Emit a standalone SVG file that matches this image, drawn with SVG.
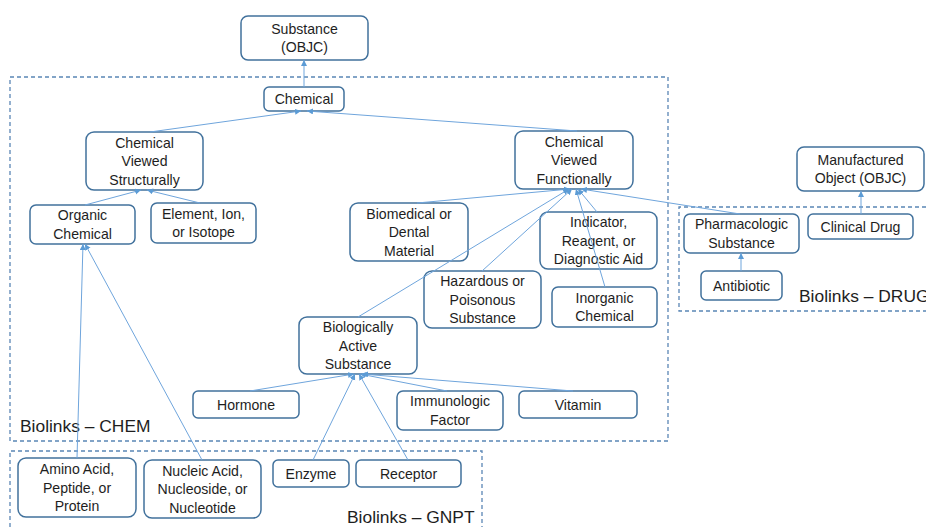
<svg xmlns="http://www.w3.org/2000/svg" width="926" height="527" viewBox="0 0 926 527">
  <style>
    .node rect { fill: #ffffff; stroke: #41719c; stroke-width: 1.5; }
    .node text { font-family: "Liberation Sans", Arial, sans-serif; font-size: 14.1px; fill: #1e1e1e; text-anchor: middle; }
    .group { fill: none; stroke: #5a86b5; stroke-width: 1.3; stroke-dasharray: 4 3; }
    .glabel { font-family: "Liberation Sans", Arial, sans-serif; font-size: 17.4px; fill: #1e1e1e; }
    .edge { stroke: #6fa5dc; stroke-width: 1; fill: none; marker-end: url(#arrow); }
  </style>
  <defs>
    <marker id="arrow" markerUnits="userSpaceOnUse" markerWidth="7" markerHeight="7" refX="6" refY="3" orient="auto">
      <path d="M0,0 L6,3 L0,6 z" fill="#5b9bd5"/>
    </marker>
  </defs>

  <rect width="926" height="527" fill="#ffffff"/>

  <!-- dashed grouping boxes -->
  <g id="groups">
    <rect class="group" x="10" y="77" width="658" height="364"/>
    <path class="group" d="M10,527 V451 H482 V527"/>
    <path class="group" d="M926,207 H679 V311 H926"/>
    <text class="glabel" x="20" y="432">Biolinks – CHEM</text>
    <text class="glabel" x="347" y="523">Biolinks – GNPT</text>
    <text class="glabel" x="799" y="302">Biolinks – DRUG</text>
  </g>

  <!-- nodes -->
  <g id="substance" class="node">
    <rect x="241" y="16" width="127" height="44" rx="7"/>
    <text x="304.5" y="33.75">Substance</text>
    <text x="304.5" y="52.25">(OBJC)</text>
  </g>
  <g id="chemical" class="node">
    <rect x="264" y="87" width="80" height="24" rx="5"/>
    <text x="304" y="104">Chemical</text>
  </g>
  <g id="chem-structural" class="node">
    <rect x="86" y="132" width="117" height="58" rx="8"/>
    <text x="144.5" y="147.5">Chemical</text>
    <text x="144.5" y="166">Viewed</text>
    <text x="144.5" y="184.5">Structurally</text>
  </g>
  <g id="organic" class="node">
    <rect x="30" y="205" width="105" height="39" rx="6"/>
    <text x="82.5" y="220.25">Organic</text>
    <text x="82.5" y="238.75">Chemical</text>
  </g>
  <g id="element" class="node">
    <rect x="151" y="203" width="105" height="40" rx="6"/>
    <text x="203.5" y="218.75">Element, Ion,</text>
    <text x="203.5" y="237.25">or Isotope</text>
  </g>
  <g id="biomedical" class="node">
    <rect x="350" y="203" width="118" height="58" rx="8"/>
    <text x="409" y="218.5">Biomedical or</text>
    <text x="409" y="237">Dental</text>
    <text x="409" y="255.5">Material</text>
  </g>
  <g id="chem-functional" class="node">
    <rect x="515" y="131" width="118" height="58" rx="8"/>
    <text x="574" y="146.5">Chemical</text>
    <text x="574" y="165">Viewed</text>
    <text x="574" y="183.5">Functionally</text>
  </g>
  <g id="indicator" class="node">
    <rect x="540" y="212" width="117" height="57" rx="8"/>
    <text x="598.5" y="227">Indicator,</text>
    <text x="598.5" y="245.5">Reagent, or</text>
    <text x="598.5" y="264">Diagnostic Aid</text>
  </g>
  <g id="hazardous" class="node">
    <rect x="424" y="271" width="117" height="57" rx="8"/>
    <text x="482.5" y="286">Hazardous or</text>
    <text x="482.5" y="304.5">Poisonous</text>
    <text x="482.5" y="323">Substance</text>
  </g>
  <g id="inorganic" class="node">
    <rect x="552" y="287" width="105" height="40" rx="6"/>
    <text x="604.5" y="302.75">Inorganic</text>
    <text x="604.5" y="321.25">Chemical</text>
  </g>
  <g id="bio-active" class="node">
    <rect x="299" y="317" width="118" height="57" rx="8"/>
    <text x="358" y="332">Biologically</text>
    <text x="358" y="350.5">Active</text>
    <text x="358" y="369">Substance</text>
  </g>
  <g id="hormone" class="node">
    <rect x="193" y="391" width="106" height="27" rx="5"/>
    <text x="246" y="409.5">Hormone</text>
  </g>
  <g id="immunologic" class="node">
    <rect x="397" y="391" width="106" height="39" rx="6"/>
    <text x="450" y="406.25">Immunologic</text>
    <text x="450" y="424.75">Factor</text>
  </g>
  <g id="vitamin" class="node">
    <rect x="519" y="391" width="118" height="27" rx="5"/>
    <text x="578" y="409.5">Vitamin</text>
  </g>
  <g id="enzyme" class="node">
    <rect x="273" y="460" width="76" height="27" rx="5"/>
    <text x="311" y="478.5">Enzyme</text>
  </g>
  <g id="receptor" class="node">
    <rect x="356" y="460" width="105" height="27" rx="5"/>
    <text x="408.5" y="478.5">Receptor</text>
  </g>
  <g id="amino-acid" class="node">
    <rect x="18" y="458" width="118" height="59" rx="8"/>
    <text x="77" y="474">Amino Acid,</text>
    <text x="77" y="492.5">Peptide, or</text>
    <text x="77" y="511">Protein</text>
  </g>
  <g id="nucleic-acid" class="node">
    <rect x="144" y="460" width="117" height="58" rx="8"/>
    <text x="202.5" y="475.5">Nucleic Acid,</text>
    <text x="202.5" y="494">Nucleoside, or</text>
    <text x="202.5" y="512.5">Nucleotide</text>
  </g>
  <g id="manufactured" class="node">
    <rect x="797" y="147" width="127" height="44" rx="7"/>
    <text x="860.5" y="164.75">Manufactured</text>
    <text x="860.5" y="183.25">Object (OBJC)</text>
  </g>
  <g id="pharmacologic" class="node">
    <rect x="684" y="214" width="115" height="39" rx="6"/>
    <text x="741.5" y="229.25">Pharmacologic</text>
    <text x="741.5" y="247.75">Substance</text>
  </g>
  <g id="clinical-drug" class="node">
    <rect x="808" y="214" width="105" height="25" rx="5"/>
    <text x="860.5" y="231.5">Clinical Drug</text>
  </g>
  <g id="antibiotic" class="node">
    <rect x="701" y="271" width="81" height="29" rx="5"/>
    <text x="741.5" y="290.5">Antibiotic</text>
  </g>

  <!-- is-a connectors, child to parent -->
  <g id="connectors">
    <line class="edge" x1="304" y1="87" x2="304" y2="60"/>
    <line class="edge" x1="150" y1="132" x2="301" y2="111"/>
    <line class="edge" x1="577" y1="131" x2="307" y2="111"/>
    <line class="edge" x1="85" y1="205" x2="141" y2="190"/>
    <line class="edge" x1="200" y1="203" x2="147" y2="190"/>
    <line class="edge" x1="417" y1="203" x2="570" y2="189"/>
    <line class="edge" x1="482" y1="271" x2="572" y2="189"/>
    <line class="edge" x1="358" y1="317" x2="569" y2="189"/>
    <line class="edge" x1="597" y1="212" x2="578" y2="189"/>
    <line class="edge" x1="605" y1="287" x2="576" y2="189"/>
    <line class="edge" x1="740" y1="214" x2="581" y2="189"/>
    <line class="edge" x1="861" y1="214" x2="861" y2="191"/>
    <line class="edge" x1="741" y1="271" x2="741" y2="253"/>
    <line class="edge" x1="250" y1="391" x2="354" y2="374"/>
    <line class="edge" x1="447" y1="391" x2="360" y2="374"/>
    <line class="edge" x1="573" y1="391" x2="362" y2="374"/>
    <line class="edge" x1="313" y1="460" x2="355" y2="374"/>
    <line class="edge" x1="408" y1="460" x2="359" y2="374"/>
    <line class="edge" x1="77" y1="458" x2="83" y2="244"/>
    <line class="edge" x1="202" y1="460" x2="85" y2="244"/>
  </g>
</svg>
